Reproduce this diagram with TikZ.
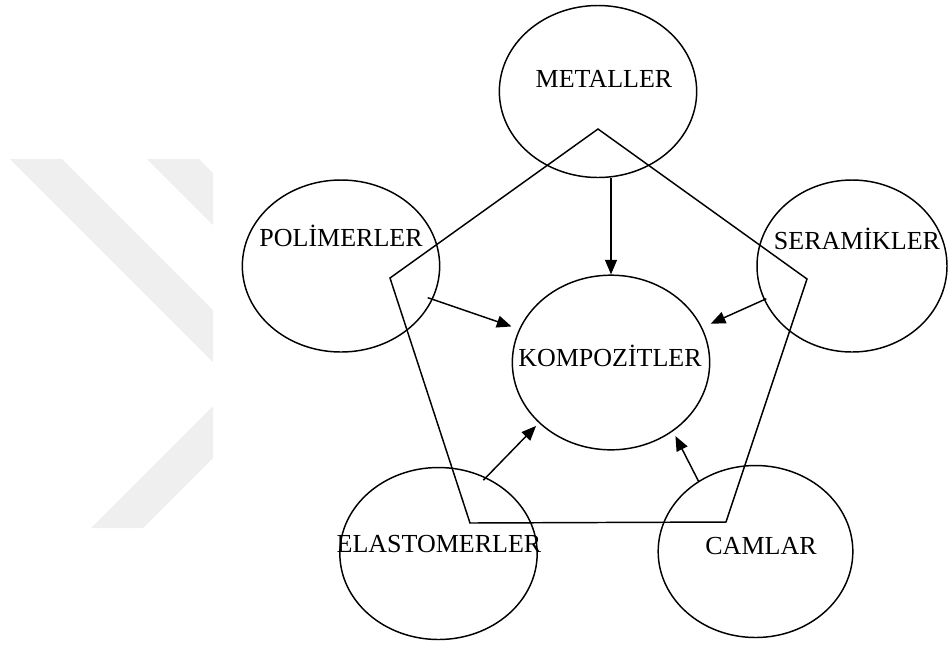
\documentclass[tikz,border=0pt]{standalone}
\usepackage{fontspec}
\setmainfont{Liberation Serif}
\usetikzlibrary{shapes.geometric,arrows.meta}
\definecolor{wmgray}{HTML}{EFEFEF}
\tikzset{
  blob/.style={draw, ellipse, line width=1.1pt, minimum width=148pt, minimum height=129pt, inner sep=0pt},
  tag/.style={font=\fontsize{19.5pt}{23pt}\selectfont, inner sep=0pt, text height=0.66em, text depth=0pt},
  flow/.style={line width=1.1pt, -{Triangle[length=11pt,width=9pt]}}
}
\begin{document}
\begin{tikzpicture}[x=0.75pt,y=-0.75pt]
    \useasboundingbox (0,0) rectangle (948,644);
    \fill[wmgray] (10,159) -- (62,159) -- (213,310) -- (213,362) -- cycle;
    \fill[wmgray] (147,159) -- (199,159) -- (213,173) -- (213,225) -- cycle;
    \fill[wmgray] (91,528) -- (143,528) -- (213,458) -- (213,406) -- cycle;
    \draw[line width=1.1pt] (598,129) -- (807,279) -- (726,522) -- (470,523) -- (390,278) -- cycle;
    \node[blob] (metal) at (598,91.5) {}; \node[tag] (metal-t) at (604,83) {METALLER};
    \node[blob] (pol) at (341,266) {}; \node[tag] (pol-t) at (341,242) {POLİMERLER};
    \node[blob, minimum width=142.5pt] (ser) at (852,266) {}; \node[tag] (ser-t) at (857,245) {SERAMİKLER};
    \node[blob, minimum height=131pt] (komp) at (611,362.5) {}; \node[tag] (komp-t) at (610,362) {KOMPOZİTLER};
    \node[blob] (elas) at (438.5,553.5) {}; \node[tag] (elas-t) at (439,548) {ELASTOMERLER};
    \node[blob, minimum width=146pt] (cam) at (755.5,551.5) {}; \node[tag] (cam-t) at (761,550) {CAMLAR};
    \draw[flow] (komp.north |- metal.south) -- (komp.north);
    \draw[flow, shorten <=-4pt, shorten >=6pt] (pol.-20) -- (komp.160);
    \draw[flow, shorten <=-2pt, shorten >=7pt] (ser.201) -- (komp.21);
    \draw[flow, shorten <=-3pt, shorten >=3pt] (elas.58) -- (komp.220);
    \draw[flow, shorten >=4pt] (cam.129) -- (komp.-48);
\end{tikzpicture}
\end{document}
